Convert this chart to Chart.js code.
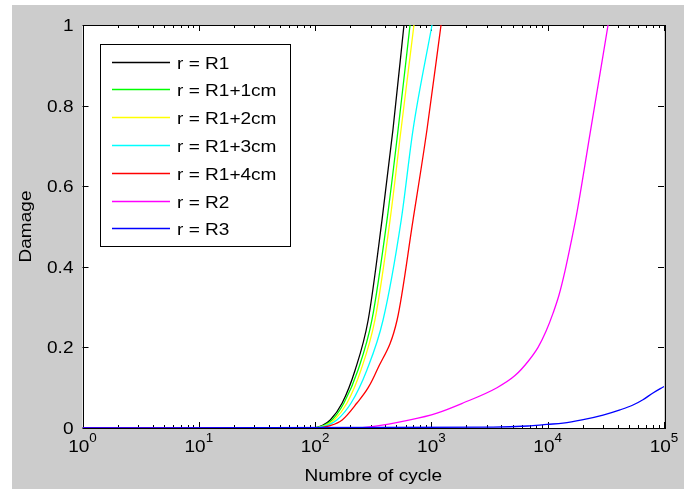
<!DOCTYPE html>
<html>
<head>
<meta charset="utf-8">
<script src="https://cdn.jsdelivr.net/npm/chart.js@4/dist/chart.umd.min.js"></script>
<style>
  html, body { margin: 0; padding: 0; background: #fff; }
  canvas { display: block; }
</style>
</head>
<body>
<canvas id="damage-chart" width="691" height="489"></canvas>
<script>
const chartCanvas = document.getElementById('damage-chart');

// series (cycles on log axis, damage 0..1)
const seriesLabels = ['r = R1', 'r = R1+1cm', 'r = R1+2cm', 'r = R1+3cm', 'r = R1+4cm', 'r = R2', 'r = R3'];
const seriesColors = ['#000000', '#00ff00', '#ffff00', '#00ffff', '#ff0000', '#ff00ff', '#0000ff'];

const r1Cycles = [1, 95, 115, 135, 171, 221, 286, 376, 467, 581];
const r1Damage = [0, 0, 0.006, 0.02, 0.062, 0.144, 0.268, 0.516, 0.74, 1.0];

const r1p1Cycles = [1, 95, 118, 140, 177, 234, 308, 415, 517, 655];
const r1p1Damage = [0, 0, 0.006, 0.02, 0.062, 0.144, 0.268, 0.516, 0.74, 1.0];

const r1p2Cycles = [1, 95, 121, 146, 188, 248, 327, 441, 548, 708];
const r1p2Damage = [0, 0, 0.006, 0.02, 0.062, 0.144, 0.268, 0.516, 0.74, 1.0];

const r1p3Cycles = [1, 95, 125, 154, 204, 279, 384, 550, 695, 1012];
const r1p3Damage = [0, 0, 0.006, 0.02, 0.062, 0.144, 0.268, 0.516, 0.74, 1.0];

const r1p4Cycles = [1, 100, 135, 171, 229, 286, 341, 507, 695, 916, 1210];
const r1p4Damage = [0, 0, 0.006, 0.02, 0.062, 0.10, 0.144, 0.268, 0.516, 0.74, 1.0];

const r2Cycles = [1, 200, 297, 655, 1117, 1870, 3664, 5233, 6773, 8260, 9670, 11120, 12510, 14090, 15860, 17850, 23110, 33040];
const r2Damage = [0, 0, 0.003, 0.02, 0.037, 0.062, 0.10, 0.13, 0.165, 0.20, 0.24, 0.285, 0.33, 0.39, 0.46, 0.535, 0.73, 1.0];

const r3Cycles = [1, 3388, 6776, 9870, 13530, 19720, 29920, 41880, 54110, 65920, 80350, 100000];
const r3Damage = [0, 0.002, 0.005, 0.009, 0.012, 0.02, 0.032, 0.045, 0.057, 0.07, 0.087, 0.103];

// axis ticks
const xTickValues = [1, 10, 100, 1000, 10000, 100000];
const xTickExponents = ['0', '1', '2', '3', '4', '5'];
const yTickValues = [0, 0.2, 0.4, 0.6, 0.8, 1];
const yTickLabels = ['0', '0.2', '0.4', '0.6', '0.8', '1'];

const xTitle = 'Numbre of cycle';
const yTitle = 'Damage';

const allCycles = [r1Cycles, r1p1Cycles, r1p2Cycles, r1p3Cycles, r1p4Cycles, r2Cycles, r3Cycles];
const allDamage = [r1Damage, r1p1Damage, r1p2Damage, r1p3Damage, r1p4Damage, r2Damage, r3Damage];

const FONT = "'Liberation Sans', Arial, Helvetica, sans-serif";
const STRETCH = 1.12;

function stretchText(ctx, text, x, y, align) {
  const w = ctx.measureText(text).width * STRETCH;
  let left = x;
  if (align === 'center') left = x - w / 2;
  if (align === 'right') left = x - w;
  ctx.save();
  ctx.translate(left, y);
  ctx.scale(STRETCH, 1);
  ctx.textAlign = 'left';
  ctx.fillText(text, 0, 0);
  ctx.restore();
  return w;
}

const matlabFrame = {
  id: 'matlabFrame',
  beforeDraw(chart) {
    const ctx = chart.ctx;
    const a = chart.chartArea;
    ctx.save();
    ctx.fillStyle = '#ffffff';
    ctx.fillRect(0, 0, chart.width, chart.height);
    ctx.fillStyle = '#cccccc';
    ctx.fillRect(12, 5, 672, chart.height - 5);
    ctx.fillStyle = '#ffffff';
    ctx.fillRect(a.left, a.top, a.right - a.left, a.bottom - a.top);
    ctx.restore();
  },
  beforeDatasetsDraw(chart) {
    // axes box and ticks go under the curves, so the blue zero line shows on the bottom edge
    const ctx = chart.ctx;
    const a = chart.chartArea;
    const xs = chart.scales.x;
    const ys = chart.scales.y;
    ctx.save();
    ctx.strokeStyle = '#000000';
    ctx.lineWidth = 1;
    ctx.strokeRect(Math.round(a.left) + 0.5, Math.round(a.top) + 0.5,
      Math.round(a.right - a.left), Math.round(a.bottom - a.top));

    ctx.beginPath();
    xTickValues.forEach((v, i) => {
      const px = Math.round(xs.getPixelForValue(v)) + 0.5;
      ctx.moveTo(px, a.bottom); ctx.lineTo(px, a.bottom - 6);
      ctx.moveTo(px, a.top); ctx.lineTo(px, a.top + 6);
      if (i < xTickValues.length - 1) {
        for (let m = 2; m <= 9; m++) {
          const mx = Math.round(xs.getPixelForValue(v * m)) + 0.5;
          ctx.moveTo(mx, a.bottom); ctx.lineTo(mx, a.bottom - 3);
          ctx.moveTo(mx, a.top); ctx.lineTo(mx, a.top + 3);
        }
      }
    });
    yTickValues.forEach((v) => {
      const py = Math.round(ys.getPixelForValue(v)) + 0.5;
      ctx.moveTo(a.left, py); ctx.lineTo(a.left + 6, py);
      ctx.moveTo(a.right, py); ctx.lineTo(a.right - 6, py);
    });
    ctx.stroke();
    ctx.restore();
  },
  afterDraw(chart) {
    const ctx = chart.ctx;
    const a = chart.chartArea;
    const xs = chart.scales.x;
    const ys = chart.scales.y;
    ctx.save();
    ctx.fillStyle = '#000000';
    ctx.textBaseline = 'alphabetic';

    // y tick labels
    ctx.font = '17px ' + FONT;
    yTickValues.forEach((v, i) => {
      const py = ys.getPixelForValue(v);
      stretchText(ctx, yTickLabels[i], a.left - 9, py + 6, 'right');
    });

    // x tick labels as 10^n
    xTickValues.forEach((v, i) => {
      const px = xs.getPixelForValue(v);
      ctx.font = '17px ' + FONT;
      const wBase = ctx.measureText('10').width * STRETCH;
      ctx.font = '12px ' + FONT;
      const wExp = ctx.measureText(xTickExponents[i]).width * STRETCH;
      const left = px - (wBase + wExp) / 2;
      ctx.font = '17px ' + FONT;
      stretchText(ctx, '10', left, a.bottom + 24, 'left');
      ctx.font = '12px ' + FONT;
      stretchText(ctx, xTickExponents[i], left + wBase, a.bottom + 14, 'left');
    });

    // axis titles
    ctx.font = '17px ' + FONT;
    stretchText(ctx, xTitle, (a.left + a.right) / 2, a.bottom + 53, 'center');
    ctx.save();
    ctx.translate(31, (a.top + a.bottom) / 2);
    ctx.rotate(-Math.PI / 2);
    stretchText(ctx, yTitle, 0, 0, 'center');
    ctx.restore();

    // legend box
    const lx = 100, ly = 44, lw = 190, lh = 202;
    ctx.fillStyle = '#ffffff';
    ctx.fillRect(lx, ly, lw, lh);
    ctx.strokeStyle = '#000000';
    ctx.lineWidth = 1;
    ctx.strokeRect(lx + 0.5, ly + 0.5, lw, lh);
    chart.data.datasets.forEach((ds, i) => {
      const y = Math.round(ly + 17.5 + i * 27.8) + 0.5;
      ctx.strokeStyle = ds.borderColor;
      ctx.lineWidth = 1.3;
      ctx.beginPath();
      ctx.moveTo(112, y); ctx.lineTo(170, y);
      ctx.stroke();
      ctx.fillStyle = '#000000';
      ctx.font = '17px ' + FONT;
      stretchText(ctx, ds.label, 177, y + 6, 'left');
    });
    ctx.restore();
  }
};

const datasets = seriesLabels.map((label, i) => ({
  label: label,
  data: allCycles[i].map((c, j) => ({ x: c, y: allDamage[i][j] })),
  borderColor: seriesColors[i],
  backgroundColor: seriesColors[i],
  borderWidth: 1.3,
  pointRadius: 0,
  fill: false,
  cubicInterpolationMode: 'monotone',
  order: seriesLabels.length - i // later series drawn on top, like matlab
}));

const chart = new Chart(chartCanvas, {
  type: 'line',
  data: { datasets: datasets },
  plugins: [matlabFrame],
  options: {
    responsive: false,
    animation: false,
    devicePixelRatio: 1,
    layout: { padding: { top: 25, right: 27, left: 0, bottom: 0 } },
    plugins: {
      legend: { display: false },
      tooltip: { enabled: false }
    },
    scales: {
      x: {
        type: 'logarithmic',
        min: 1,
        max: 100000,
        grid: { display: false },
        border: { display: false },
        ticks: { display: false },
        afterFit(scale) { scale.height = 61; }
      },
      y: {
        type: 'linear',
        min: 0,
        max: 1,
        grid: { display: false },
        border: { display: false },
        ticks: { display: false, stepSize: 0.2 },
        afterFit(scale) { scale.width = 82.5; }
      }
    }
  }
});
</script>
</body>
</html>
